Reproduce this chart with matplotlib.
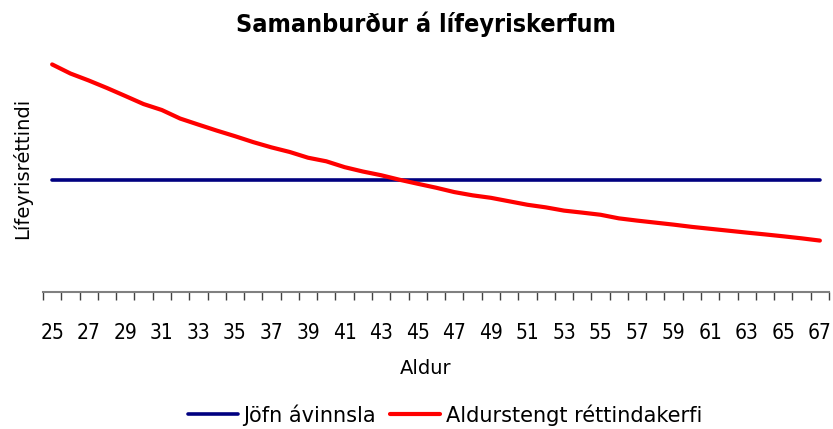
import matplotlib
matplotlib.use("Agg")
import matplotlib.pyplot as plt
from matplotlib.font_manager import FontProperties
import numpy as np

ages = list(range(25, 68))
jofn = [100.0] * len(ages)
aldur = [202.7, 194.6, 188.4, 181.7, 174.6, 167.4, 162.1, 154.5, 149.1, 143.8,
         138.8, 133.5, 128.8, 124.7, 119.6, 116.4, 111.2, 107.3, 104.0, 100.0,
         96.4, 92.9, 89.0, 86.1, 83.9, 80.8, 77.7, 75.4, 72.5, 70.7,
         68.8, 65.6, 63.6, 61.8, 60.0, 58.0, 56.3, 54.6, 52.9, 51.3,
         49.6, 47.8, 45.8]

title = "Samanburður á lífeyriskerfum"
xlabel = "Aldur"
ylabel = "Lífeyrisréttindi"
series_names = ["Jöfn ávinnsla", "Aldurstengt réttindakerfi"]

cond = dict(family="DejaVu Sans", stretch="condensed")

W, H = 833, 429
fig = plt.figure(figsize=(W / 100, H / 100), dpi=100)
left, right, bottom, top = 43, 829, 292, 45
ax = fig.add_axes([left / W, 1 - bottom / H, (right - left) / W, (bottom - top) / H])

x = np.arange(len(ages))
l1, = ax.plot(x, jofn, color="#000080", lw=2.6, solid_capstyle="round")
l2, = ax.plot(x, aldur, color="#FF0000", lw=3.0, solid_capstyle="round")

ax.set_xlim(-0.5, len(ages) - 0.5)
ax.set_ylim(0, 220)

for s in ["left", "right", "top"]:
    ax.spines[s].set_visible(False)
ax.spines["bottom"].set_color("#808080")
ax.spines["bottom"].set_linewidth(1.5)
ax.set_yticks([])

ax.set_xticks(np.arange(-0.5, len(ages), 1.0))
ax.set_xticklabels([])
ax.tick_params(axis="x", which="major", direction="out", length=6, width=1, color="#404040")
ax.set_xticks(x[::2], minor=True)
ax.set_xticklabels([str(a) for a in ages[::2]], minor=True,
                   fontproperties=FontProperties(size=15, **cond))
ax.tick_params(axis="x", which="minor", length=0, pad=22)

fig.text(426 / W, 1 - 368 / H, xlabel, ha="center", va="center",
         family="DejaVu Sans", fontsize=14)
fig.text(22 / W, 1 - 168 / H, ylabel, ha="center", va="center", rotation=90,
         family="DejaVu Sans", fontsize=14)

fig.text(426 / W, 1 - 24 / H, title, ha="center", va="center",
         fontproperties=FontProperties(size=18, weight="bold", **cond))

leg = fig.legend([l1, l2], series_names, loc="center", bbox_to_anchor=(445 / W, 1 - 415 / H),
                 ncol=2, frameon=False, prop={"family": "DejaVu Sans", "size": 15},
                 handlelength=2.4, handletextpad=0.25, columnspacing=0.7)

fig.savefig("out.png", dpi=100)
